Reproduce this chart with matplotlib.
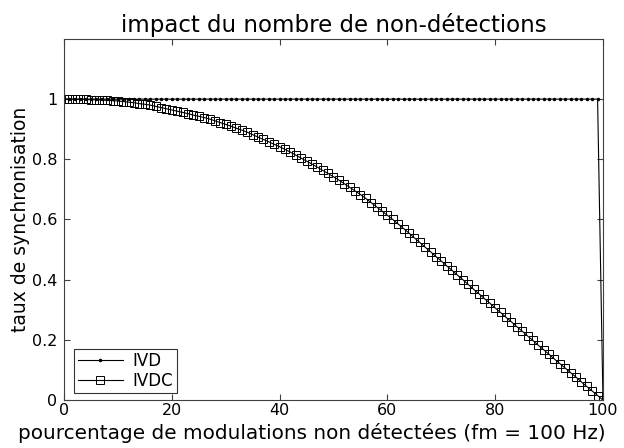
import matplotlib
matplotlib.use("Agg")
import matplotlib.pyplot as plt

# valeurs
pct = list(range(0, 101))
ivd = [1.0] * 100 + [0.0]
ivdc = [1.000, 1.000, 1.000, 0.999, 0.999, 0.998, 0.998, 0.997, 0.996, 0.995,
        0.994, 0.992, 0.990, 0.988, 0.985, 0.983, 0.980, 0.976, 0.972, 0.968,
        0.964, 0.960, 0.956, 0.952, 0.947, 0.943, 0.939, 0.934, 0.928, 0.922,
        0.916, 0.910, 0.903, 0.897, 0.890, 0.882, 0.874, 0.866, 0.858, 0.850,
        0.842, 0.833, 0.824, 0.814, 0.804, 0.794, 0.784, 0.774, 0.763, 0.753,
        0.742, 0.731, 0.719, 0.707, 0.695, 0.683, 0.670, 0.656, 0.642, 0.628,
        0.614, 0.600, 0.585, 0.570, 0.555, 0.539, 0.524, 0.508, 0.493, 0.477,
        0.462, 0.446, 0.431, 0.415, 0.400, 0.384, 0.368, 0.353, 0.337, 0.322,
        0.306, 0.291, 0.275, 0.260, 0.244, 0.229, 0.213, 0.198, 0.182, 0.167,
        0.152, 0.136, 0.121, 0.106, 0.091, 0.076, 0.060, 0.045, 0.030, 0.015,
        0.000]
xticks = [0, 20, 40, 60, 80, 100]
yticks = [0, 0.2, 0.4, 0.6, 0.8, 1]
ylabels = ["0", "0.2", "0.4", "0.6", "0.8", "1"]

plt.rcParams['font.family'] = ['DejaVu Sans']

fig = plt.figure(figsize=(6.24, 4.48), dpi=100)
ax = fig.add_axes([0.1026, 0.1071, 0.8637, 0.8059])

ax.plot(pct, ivd, color='black', lw=0.8, marker='.', markersize=3,
        label='IVD')
ax.plot(pct, ivdc, color='black', lw=0.8, marker='s', markersize=5.5,
        markerfacecolor='none', markeredgecolor='black', markeredgewidth=0.7,
        label='IVDC')

ax.set_xlim(0, 100)
ax.set_ylim(0, 1.2)
ax.set_xticks(xticks)
ax.set_yticks(yticks)
ax.set_yticklabels(ylabels)
ax.tick_params(direction='in', top=True, right=True, labelsize=11.5, length=4,
               color='#404040')
ax.tick_params(axis='x', pad=2)
ax.tick_params(axis='y', pad=5)
for s in ax.spines.values():
    s.set_color('#404040')
    s.set_linewidth(0.8)

ax.set_title('impact du nombre de non-détections', fontsize=16.5, pad=5)
ax.set_xlabel('pourcentage de modulations non détectées (fm = 100 Hz)',
              fontsize=14.4)
ax.xaxis.set_label_coords(0.46, -0.063, transform=ax.transAxes)
ax.xaxis.label.set_va('top')
ax.set_ylabel('taux de synchronisation', fontsize=13.5, labelpad=1)

leg = ax.legend(loc='lower left', fontsize=12, frameon=True, fancybox=False,
                edgecolor='black', handlelength=2.7, borderpad=0.2,
                labelspacing=0.1, handletextpad=0.6, borderaxespad=0,
                bbox_to_anchor=(0.019, 0.019))
leg.get_frame().set_linewidth(0.8)

fig.savefig('out.png', dpi=100)
